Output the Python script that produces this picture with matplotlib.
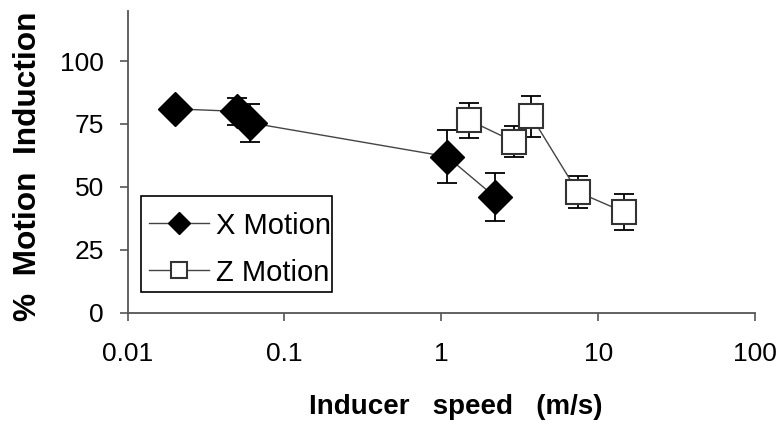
import matplotlib
matplotlib.use("Agg")
import matplotlib.pyplot as plt
from matplotlib.patches import Rectangle

plt.rcParams['font.family'] = ['Liberation Sans', 'DejaVu Sans']

# X Motion data
x_speed = [0.02, 0.05, 0.06, 1.09, 2.2]
x_pct = [81, 80, 75.5, 62, 46]
x_err = [1.5, 5.5, 7.5, 10.5, 9.5]

# Z Motion data
z_speed = [1.5, 2.9, 3.75, 7.4, 14.6]
z_pct = [76.5, 68, 78, 48, 40]
z_err = [7, 6.3, 8, 6.2, 7]

y_ticks = [0, 25, 50, 75, 100]
x_ticks = [0.01, 0.1, 1, 10, 100]
x_ticklabels = ['0.01', '0.1', '1', '10', '100']

fig = plt.figure(figsize=(7.84, 4.34), dpi=100)
ax = fig.add_axes([0.1628, 0.2795, 0.8002, 0.6958])

axis_color = '#555555'

# error bars (under the markers)
ax.errorbar(x_speed, x_pct, yerr=x_err, fmt='none', ecolor='black',
            elinewidth=1.3, capsize=7, capthick=1.3, zorder=1)
ax.errorbar(z_speed, z_pct, yerr=z_err, fmt='none', ecolor='black',
            elinewidth=1.3, capsize=7, capthick=1.3, zorder=1)

ax.plot(x_speed, x_pct, color='#444444', lw=1.0, marker='D', ms=17.5,
        mfc='black', mec='black', mew=1.0, label='X Motion', zorder=3)
ax.plot(z_speed, z_pct, color='#444444', lw=1.0, marker='s', ms=17.5,
        mfc='white', mec='#333333', mew=1.5, label='Z Motion', zorder=3)

ax.set_xscale('log')
ax.set_xlim(0.01, 100)
ax.set_ylim(0, 120)
ax.set_xticks(x_ticks)
ax.set_xticklabels(x_ticklabels)
ax.minorticks_off()
ax.set_yticks(y_ticks)

for s in ['top', 'right']:
    ax.spines[s].set_visible(False)
for s in ['left', 'bottom']:
    ax.spines[s].set_color(axis_color)
    ax.spines[s].set_linewidth(1.3)

ax.tick_params(axis='both', which='major', direction='out', length=6,
               width=1.2, color=axis_color, labelsize=19)
ax.tick_params(axis='y', pad=11)
ax.tick_params(axis='x', pad=15)

ax.set_xlabel('Inducer   speed   (m/s)', fontsize=20, fontweight='bold')
ax.xaxis.set_label_coords(0.523, -0.268)
ax.set_ylabel('%  Motion  Induction', fontsize=22.8, fontweight='bold')
ax.yaxis.set_label_coords(-0.135, 0.484)

# legend box
ax.add_patch(Rectangle((0.0207, 0.0695), 0.3053, 0.3165, transform=ax.transAxes,
                       facecolor='white', edgecolor='black', lw=1.2, zorder=4))
leg = ax.legend(loc='upper left', bbox_to_anchor=(0.0127, 0.378),
                fontsize=21, markerscale=0.62, handlelength=2.05,
                handletextpad=0.25, labelspacing=0.65, borderpad=0.45,
                borderaxespad=0, frameon=False)
leg.set_zorder(5)

fig.savefig('out.png', dpi=100)
